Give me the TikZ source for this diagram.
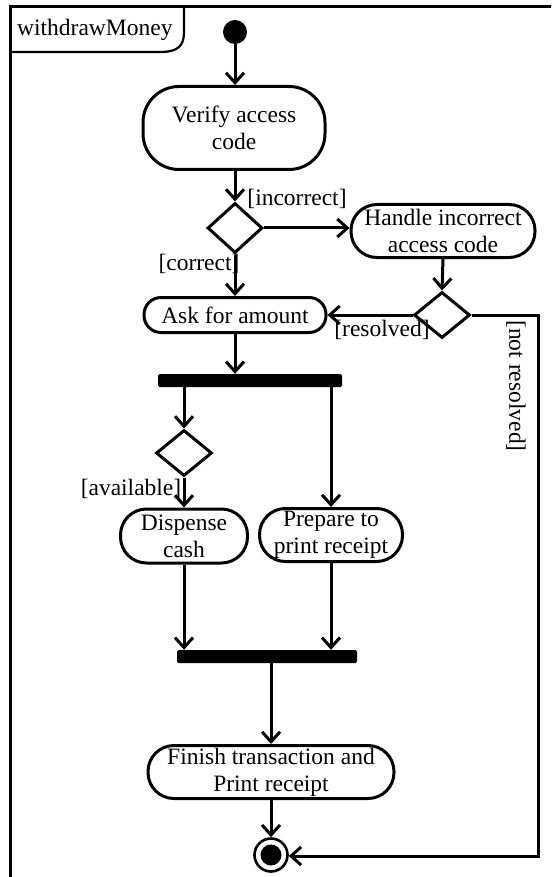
\documentclass[tikz,border=0pt]{standalone}
\usepackage{fontspec}
\setmainfont{Liberation Serif}
\usetikzlibrary{arrows.meta,shapes.geometric}
\begin{document}
\begin{tikzpicture}[x=1pt,y=-1pt,
  every node/.style={font=\fontsize{23.5}{27}\selectfont},
  action/.style={draw,line width=3pt,align=center,inner sep=0pt},
  choice/.style={draw,diamond,line width=3pt,inner sep=0pt},
  bar/.style={fill=black,rounded corners=1.5pt,inner sep=0pt,minimum height=13pt},
  flow/.style={line width=3pt,-{Straight Barb[length=10pt,width=18pt]}},
  guard/.style={inner sep=0pt}]
\useasboundingbox (0,0) rectangle (551,877);
\begin{scope}
\clip (0,0) rectangle (551,877);
% activity frame and its name tab
\draw[line width=2.2pt] (10.5,890) -- (10.5,6.5) -- (560,6.5);
\draw[line width=2.2pt] (10.5,52) -- (160,52) .. controls (178,52) and (184,46) .. (184,32) -- (184,6.5);
\end{scope}
\node[anchor=west,inner sep=0pt] (title) at (17,30) {withdrawMoney};

% nodes
\node[circle,fill=black,minimum size=24pt,inner sep=0pt] (start) at (235,32) {};
\node[action,rounded corners=36pt,minimum width=182pt,minimum height=83pt] (verify) at (234,128) {Verify access\\code};
\node[choice,minimum width=55pt,minimum height=50pt] (d1) at (235,228) {};
\node[action,rounded corners=26pt,minimum width=184pt,minimum height=53pt] (handle) at (443,231) {Handle incorrect\\access code};
\node[action,rounded corners=17pt,minimum width=182pt,minimum height=35pt] (ask) at (235,315) {Ask for amount};
\node[choice,minimum width=56pt,minimum height=46pt] (d2) at (442,315) {};
\node[bar,minimum width=184pt] (fork) at (250,380.5) {};
\node[choice,minimum width=56pt,minimum height=46pt] (d3) at (184,453) {};
\node[action,rounded corners=26pt,minimum width=127pt,minimum height=54pt] (dispense) at (184,536) {Dispense\\cash};
\node[action,rounded corners=26pt,minimum width=143pt,minimum height=53pt] (prepare) at (331,535) {Prepare to\\print receipt};
\node[bar,minimum width=180pt] (join) at (267,656.5) {};
\node[action,rounded corners=26pt,minimum width=246pt,minimum height=53pt] (finish) at (271,772) {Finish transaction and\\Print receipt};
\node[circle,draw,line width=2.6pt,minimum size=33pt,inner sep=0pt] (final) at (271,855) {};
\node[circle,fill=black,minimum size=21pt,inner sep=0pt] (finalcore) at (final.center) {};
\coordinate (loopcorner1) at (538,315);
\coordinate (loopcorner2) at (538,856);

% guards
\node[guard] (gIncorrect) at (297,199) {[incorrect]};
\node[guard] (gCorrect) at (199,264) {[correct]};
\node[guard] (gResolved) at (382,330) {[resolved]};
\node[guard,rotate=-90] (gNotResolved) at (516,386) {[not resolved]};
\node[guard] (gAvailable) at (131,489) {[available]};

% control flows
\draw[flow] (start) -- (verify.north -| start);
\draw[flow] (verify.south -| d1.north) -- (d1.north);
\draw[flow] (d1.east) -- (handle.west |- d1.east);
\draw[flow] (d1.south) -- (ask.north -| d1.south);
\draw[flow] (handle.south) -- (d2.north);
\draw[flow] (d2.west) -- (ask.east);
\draw[flow] (d2.east) -- (loopcorner1) -- (loopcorner2) -- (final.east |- loopcorner2);
\draw[flow] (ask.south) -- (fork.north -| ask.south);
\draw[flow] (fork.south -| d3.north) -- (d3.north);
\draw[flow] (fork.south -| prepare.north) -- (prepare.north);
\draw[flow] (d3.south) -- (dispense.north);
\draw[flow] (dispense.south) -- (join.north -| dispense.south);
\draw[flow] (prepare.south) -- (join.north -| prepare.south);
\draw[flow] (join.south -| finish.north) -- (finish.north);
\draw[flow] (finish.south) -- (final.north);
\end{tikzpicture}
\end{document}
